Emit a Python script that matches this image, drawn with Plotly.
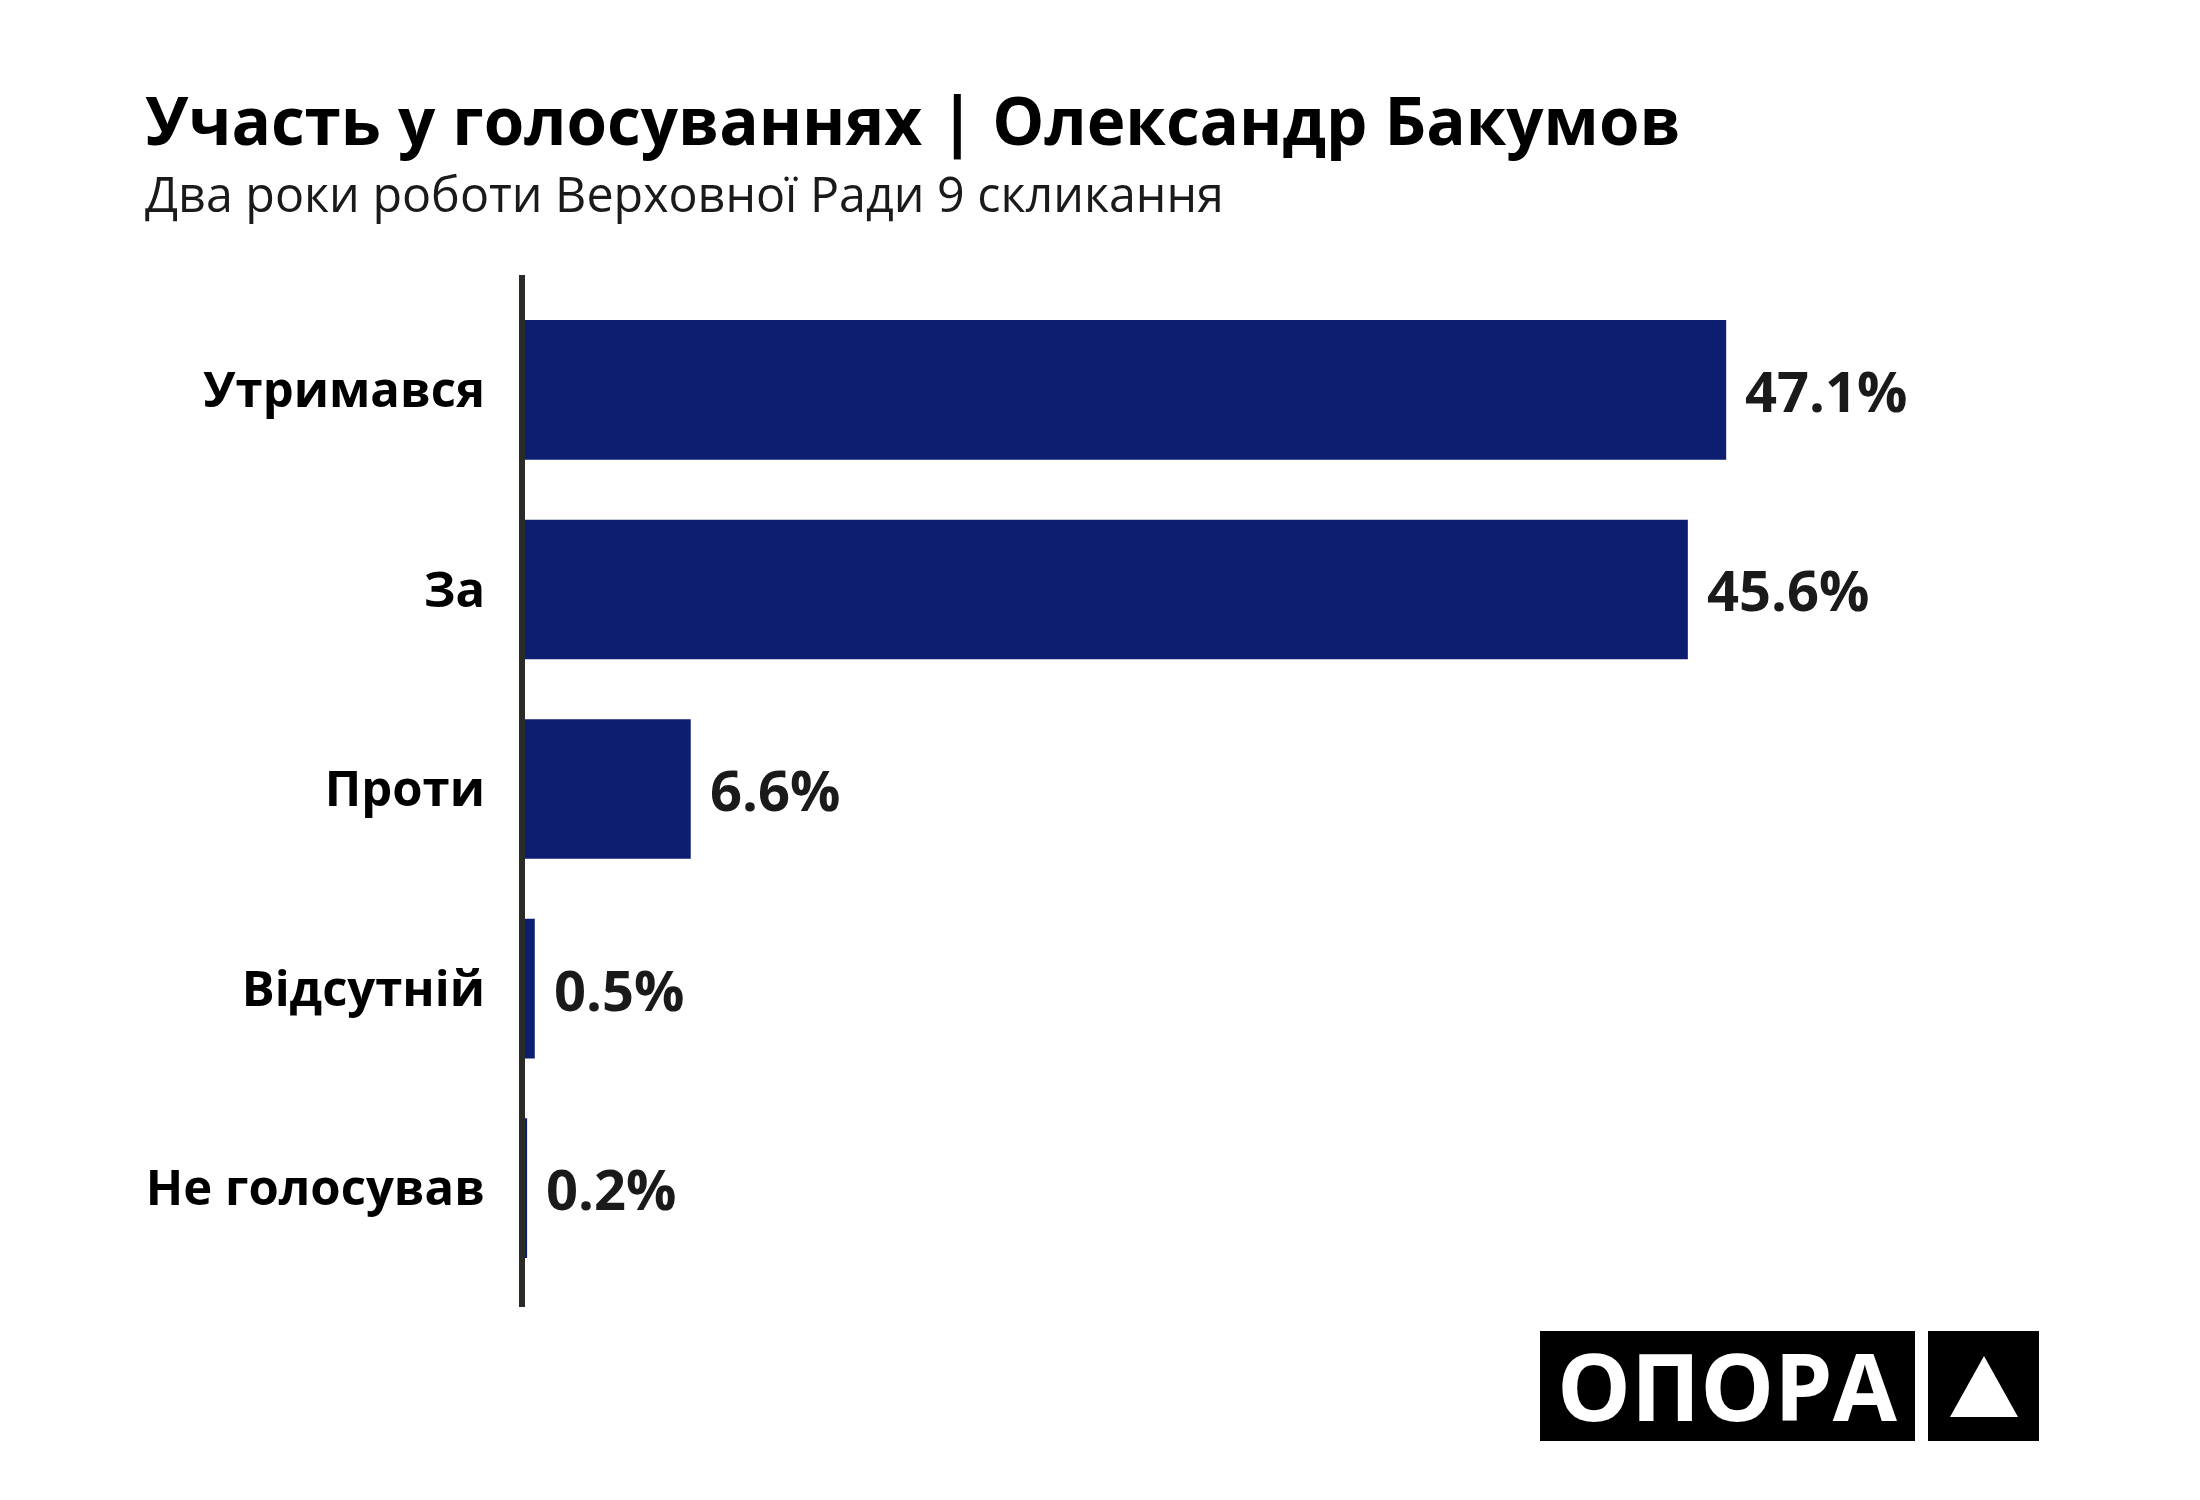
import plotly.graph_objects as go

# ---- data ----
categories = ["Утримався", "За", "Проти", "Відсутній", "Не голосував"]
values = [47.1, 45.6, 6.6, 0.5, 0.2]
value_labels = ["47.1%", "45.6%", "6.6%", "0.5%", "0.2%"]

title_text = "Участь у голосуваннях | Олександр Бакумов"
subtitle_text = "Два роки роботи Верховної Ради 9 скликання"
logo_text = "ОПОРА"

# ---- layout geometry (pixels, page is offset by body margin) ----
OFF = 8
W, H = 2200, 1500
ML, MT = 522 - OFF, 275 - OFF
PW, PH = 1534, 1032
MR, MB = W - ML - PW, H - MT - PH

def px(x):
    return (x - OFF - ML) / PW

def py(y):
    return (MT + PH - (y - OFF)) / PH

BAR = "#0d1d6f"
FONT = "Open Sans"

fig = go.Figure(
    go.Bar(
        x=values,
        y=categories,
        orientation="h",
        marker=dict(color=BAR, line=dict(width=0)),
        hoverinfo="skip",
    )
)

# value labels
for c, v, t in zip(categories, values, value_labels):
    fig.add_annotation(
        x=v, y=c, xref="x", yref="y", text=t, showarrow=False,
        xanchor="left", yanchor="middle", xshift=17,
        font=dict(family=FONT, size=56, color="#1a1a1a", weight="bold"),
    )

# title & subtitle
fig.add_annotation(
    x=px(143), y=py(120), xref="paper", yref="paper", text="<b>" + title_text + "</b>",
    showarrow=False, xanchor="left", yanchor="middle",
    font=dict(family=FONT, size=65.5, color="#000000"),
)
fig.add_annotation(
    x=px(143), y=py(193), xref="paper", yref="paper", text=subtitle_text,
    showarrow=False, xanchor="left", yanchor="middle",
    font=dict(family=FONT, size=48.4, color="#1a1a1a"),
)

# axis line at zero (paper ref so it is not clipped by the plot area)
fig.add_shape(type="line", xref="paper", yref="paper", x0=0, x1=0, y0=0, y1=1,
              line=dict(color="#2a2a26", width=6), layer="above")

# logo
fig.add_shape(type="rect", xref="paper", yref="paper",
              x0=px(1540), x1=px(1915), y0=py(1441), y1=py(1331),
              fillcolor="#000000", line=dict(width=0))
fig.add_shape(type="rect", xref="paper", yref="paper",
              x0=px(1928), x1=px(2039), y0=py(1441), y1=py(1331),
              fillcolor="#000000", line=dict(width=0))
fig.add_shape(type="path", xref="paper", yref="paper",
              path=f"M {px(1984)} {py(1356)} L {px(1950)} {py(1417)} L {px(2018)} {py(1417)} Z",
              fillcolor="#ffffff", line=dict(width=0))
fig.add_annotation(
    x=px(1727), y=py(1384.5), xref="paper", yref="paper", text="<b>" + logo_text + "</b>",
    showarrow=False, xanchor="center", yanchor="middle",
    font=dict(family=FONT, size=93, color="#ffffff"),
)

fig.update_layout(
    width=W, height=H,
    margin=dict(l=ML, r=MR, t=MT, b=MB, pad=0),
    paper_bgcolor="#ffffff", plot_bgcolor="#ffffff",
    showlegend=False,
    bargap=0.3,
    xaxis=dict(range=[0, 60], visible=False, fixedrange=True),
    yaxis=dict(
        type="category", categoryorder="array", categoryarray=categories,
        range=[4.596, -0.576],
        showline=False, showgrid=False, zeroline=False, ticks="",
        ticklabelstandoff=36,
        tickfont=dict(family=FONT, size=49, color="#000000", weight="bold"),
        fixedrange=True,
    ),
)

fig.write_html("out.html")
